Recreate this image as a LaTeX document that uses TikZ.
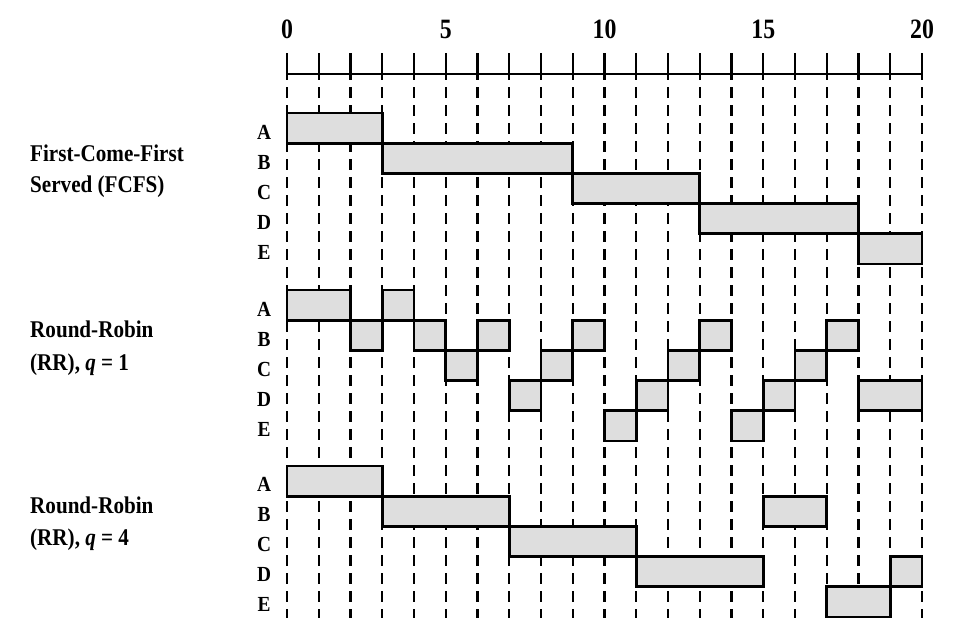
\documentclass[tikz,border=0pt]{standalone}
\usepackage{fontspec}
\setmainfont{Liberation Serif}
\definecolor{barfill}{RGB}{222,222,222}
\newcommand{\hs}[2]{\scalebox{#1}[1]{#2}}
% bar: start, end, section top, row index
\newcommand{\gbar}[4]{\draw[barbox] ({287+31.75*#1},{#3+30.2*#4}) rectangle ({287+31.75*#2},{#3+30.2*#4+30.2});}
\begin{document}
\begin{tikzpicture}[x=1pt,y=-1pt,
  barbox/.style={fill=barfill, draw=black, line width=2.8pt, line join=miter},
  gridline/.style={line width=2.4pt, dash pattern=on 11pt off 7pt},
  axisline/.style={line width=2.2pt},
  num/.style={font=\bfseries\fontsize{28}{30}\selectfont, inner sep=0pt},
  lett/.style={font=\bfseries\fontsize{21.5}{23}\selectfont, inner sep=0pt},
  sect/.style={font=\bfseries\fontsize{24}{26}\selectfont, anchor=base west, inner sep=0pt}]
\useasboundingbox (0,0) rectangle (960,625);
% axis
\foreach \t in {0,5,10,15,20}
  \node[num] (n\t) at ({287+31.75*\t},29) {\hs{0.85}{\t}};
\foreach \t in {0,...,20}
  \draw[axisline] ({287+31.75*\t},53) -- ({287+31.75*\t},80);
\draw[axisline] (287,74) -- (922,74);
% dashed grid
\foreach \t in {0,...,20}
  \draw[gridline] ({287+31.75*\t},87) -- ({287+31.75*\t},618);
% row letters
\foreach \l [count=\i from 0] in {A,B,C,D,E} {
  \node[lett] (f\l) at (264,{113+30.2*\i+19}) {\hs{0.9}{\l}};
  \node[lett] (r\l) at (264,{290+30.2*\i+19}) {\hs{0.9}{\l}};
  \node[lett] (q\l) at (264,{466+30.2*\i+18}) {\hs{0.9}{\l}};
}
% section labels
\node[sect] (fcfs1) at (30,161) {\hs{0.88}{First-Come-First}};
\node[sect] (fcfs2) at (30,192) {\hs{0.88}{Served (FCFS)}};
\node[sect] (rra1) at (30,337) {\hs{0.88}{Round-Robin}};
\node[sect] (rra2) at (30,370) {\hs{0.88}{(RR), \textit{q} = 1}};
\node[sect] (rrb1) at (30,513) {\hs{0.88}{Round-Robin}};
\node[sect] (rrb2) at (30,545) {\hs{0.88}{(RR), \textit{q} = 4}};
% FCFS
\gbar{0}{3}{113}{0}
\gbar{3}{9}{113}{1}
\gbar{9}{13}{113}{2}
\gbar{13}{18}{113}{3}
\gbar{18}{20}{113}{4}
% RR q=1
\gbar{0}{2}{290}{0}
\gbar{3}{4}{290}{0}
\gbar{2}{3}{290}{1}
\gbar{4}{5}{290}{1}
\gbar{6}{7}{290}{1}
\gbar{9}{10}{290}{1}
\gbar{13}{14}{290}{1}
\gbar{17}{18}{290}{1}
\gbar{5}{6}{290}{2}
\gbar{8}{9}{290}{2}
\gbar{12}{13}{290}{2}
\gbar{16}{17}{290}{2}
\gbar{7}{8}{290}{3}
\gbar{11}{12}{290}{3}
\gbar{15}{16}{290}{3}
\gbar{18}{20}{290}{3}
\gbar{10}{11}{290}{4}
\gbar{14}{15}{290}{4}
% RR q=4
\gbar{0}{3}{466}{0}
\gbar{3}{7}{466}{1}
\gbar{15}{17}{466}{1}
\gbar{7}{11}{466}{2}
\gbar{11}{15}{466}{3}
\gbar{19}{20}{466}{3}
\gbar{17}{19}{466}{4}
\end{tikzpicture}
\end{document}
